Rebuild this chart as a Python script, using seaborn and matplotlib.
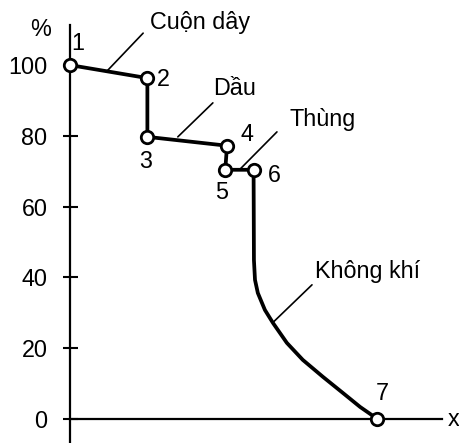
import matplotlib
matplotlib.use("Agg")
import matplotlib.pyplot as plt
import seaborn as sns
import pandas as pd

# Temperature drop (%) through the layers of a transformer
point_labels = ["1", "2", "3", "4", "5", "6", "7"]
point_x = [0, 22, 22, 44.5, 44, 52, 87]
point_y = [100, 96.3, 79.7, 77.2, 70.4, 70.4, 0]

# Air section: smooth fall from point 6 to point 7
air_x = [52.0, 52.1, 52.4, 53.2, 55.2, 57.5, 61.4, 65.9, 71.6, 77.3, 82.1, 87.0]
air_y = [70.4, 44.9, 39.3, 35.6, 30.8, 27.1, 21.5, 16.7, 11.9, 7.3, 3.4, 0.0]

y_ticks = [0, 20, 40, 60, 80, 100]

# Region names with the leader line (text anchor -> point on the curve)
region_names = ["Cuộn dây", "Dầu", "Thùng", "Không khí"]
leader_from = [(20.8, 109.0), (40.5, 89.3), (58.6, 81.1), (68.5, 37.9)]
leader_to = [(10.6, 98.3), (30.6, 79.7), (48.2, 70.6), (57.5, 27.3)]
name_pos = [(150, 29), (213, 95), (290, 126), (315, 278)]  # pixels, left/baseline

FS = 16.8

sns.set_style("white")
plt.rcParams["font.family"] = ["Liberation Sans", "DejaVu Sans"]
plt.rcParams["text.color"] = "black"

path_x = point_x[:6] + air_x[1:]
path_y = point_y[:6] + air_y[1:]
path = pd.DataFrame({"x": path_x, "y": path_y, "order": range(len(path_x))})
pts = pd.DataFrame({"x": point_x, "y": point_y, "label": point_labels})

W, H = 460, 443
fig = plt.figure(figsize=(W / 100, H / 100), dpi=100)
ax = fig.add_axes([0, 0, 1, 1])

px = 3.54  # pixels per data unit
x0_px, y0_px = 69.5, 419
ax.set_xlim(-x0_px / px, (W - x0_px) / px)
ax.set_ylim((y0_px - H) / px, y0_px / px)

sns.lineplot(data=path, x="x", y="y", sort=False, estimator=None,
             color="black", linewidth=2.7, ax=ax, zorder=3)
sns.scatterplot(data=pts, x="x", y="y", s=80, facecolor="white",
                edgecolor="black", linewidth=2.0, ax=ax, zorder=4)

# Point numbers (offsets in pixels)
offsets = [(8, 21), (16, -1), (-2, -25), (20, 11), (-4, -23), (21, -6), (5, 25)]
for lab, x, y, (dx, dy) in zip(point_labels, point_x, point_y, offsets):
    ax.annotate(lab, (x, y), xytext=(dx, dy), textcoords="offset pixels",
                ha="center", va="center", fontsize=FS, color="black", zorder=5)

# Leader lines and region names
for name, a, b, (tx, ty) in zip(region_names, leader_from, leader_to, name_pos):
    ax.plot([a[0], b[0]], [a[1], b[1]], color="black", linewidth=1.2, zorder=2)
    ax.text(tx / W, 1 - ty / H, name, transform=fig.transFigure,
            ha="left", va="baseline", fontsize=FS, color="black")

# Axes drawn through the origin
for side in ["top", "right"]:
    ax.spines[side].set_visible(False)
ax.spines["left"].set_position(("data", 0))
ax.spines["bottom"].set_position(("data", 0))
ax.spines["left"].set_bounds((y0_px - H) / px, (y0_px - 25) / px)
ax.spines["bottom"].set_bounds(0, (442 - x0_px) / px)
for side in ["left", "bottom"]:
    ax.spines[side].set_linewidth(1.6)
    ax.spines[side].set_color("black")

ax.set_xticks([])
ax.set_yticks(y_ticks)
ax.set_yticklabels([str(t) for t in y_ticks])
ax.tick_params(axis="y", direction="inout", length=10.8, width=1.5,
               pad=10.4, labelsize=FS, colors="black", left=True)
ax.set_xlabel("")
ax.set_ylabel("")

fig.text(41 / W, 1 - 30 / H, "%", ha="center", va="center", fontsize=FS, color="black")
fig.text(448 / W, 1 - 419 / H, "x", ha="left", va="center", fontsize=FS, color="black")

fig.savefig("out.png", dpi=100)
